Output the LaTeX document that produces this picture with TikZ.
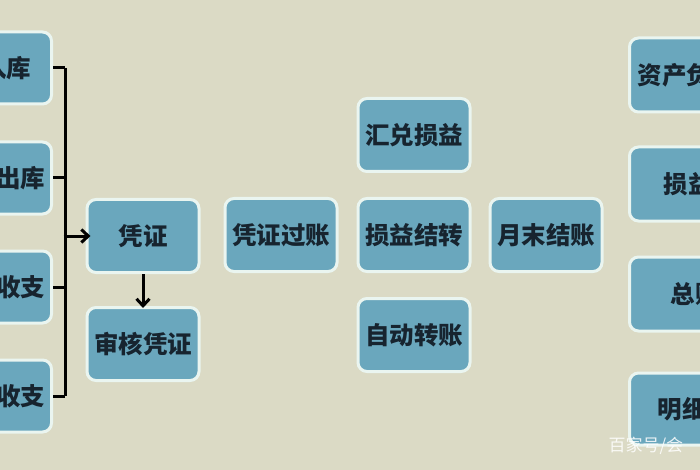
\documentclass[tikz,border=0pt]{standalone}
\usepackage{fontspec}
\setmainfont{Noto Sans CJK SC}
\usetikzlibrary{arrows.meta, positioning}
\definecolor{bgbeige}{HTML}{DBDAC5}
\definecolor{boxblue}{HTML}{6AA7BD}
\definecolor{boxedge}{HTML}{EAF5F0}
\definecolor{txtnavy}{HTML}{17242F}

\begin{document}
\begin{tikzpicture}[
  x=1pt, y=-1pt,
  every node/.style={font=\fontsize{24.5}{27}\selectfont\bfseries, text=txtnavy},
  box/.style={rectangle, rounded corners=9pt, draw=boxedge, line width=3pt, fill=boxblue, minimum width=112pt, minimum height=73pt, align=center, inner sep=0pt},
  lbox/.style={box, anchor=east, text width=100pt, align=right, minimum height=72pt},
  rbox/.style={box, anchor=west, text width=100pt, align=left, minimum height=74pt},
  link/.style={line width=3pt, black},
  arr/.style={link, -{Straight Barb[length=7pt, width=13pt]}},
]
\useasboundingbox (0,0) rectangle (700,470);
\fill[bgbeige] (0,0) rectangle (700,470);
\clip (0,0) rectangle (700,470);

% Source documents (cut at the left edge)
\node[lbox, inner xsep=20pt] (in1) at (53,68) {入库};
\node[lbox, inner xsep=6pt] (in2) at (53,178) {出库};
\node[lbox, inner xsep=6pt] (in3) at (53,287) {收支};
\node[lbox, inner xsep=6pt] (in4) at (53,396) {收支};

% Vouchers
\node[box] (pz) at (143,236) {凭证};
\node[box] (sh) at (143,344) {审核凭证};

% Posting and closing
\node[box] (gz) at (281,235) {凭证过账};
\node[box] (hd) at (414,135) {汇兑损益};
\node[box] (jz) at (414,235) {损益结转};
\node[box] (zz) at (414,335) {自动转账};
\node[box] (ym) at (546,235) {月末结账};

% Reports (cut at the right edge)
\node[rbox, inner xsep=8pt] (r1) at (628,75) {资产负};
\node[rbox, inner xsep=34pt] (r2) at (628,184) {损益};
\node[rbox, inner xsep=41pt] (r3) at (628,294) {总账};
\node[rbox, inner xsep=28pt, minimum height=72pt] (r4) at (628,409) {明细};

% Bracket
\coordinate (bt) at (65,68);
\coordinate (bb) at (65,396);
\draw[link] (bt) -- (bb);
\draw[link] (in1.east) -- (bt);
\draw[link] (in2.east) -- (in2.east -| bt);
\draw[link] (in3.east) -- (in3.east -| bt);
\draw[link] (in4.east) -- (bb);

% Connections
\draw[arr, shorten <=-1.5pt, shorten >=-5pt] (pz.west -| bt) -- (pz.west);
\draw[arr, shorten >=-2pt] (pz.south) -- (sh.north);

% Watermark
\node[anchor=west, text=white, opacity=0.85, font=\fontsize{17}{20}\selectfont] (wm) at (605,446) {百家号/会};
\end{tikzpicture}
\end{document}
